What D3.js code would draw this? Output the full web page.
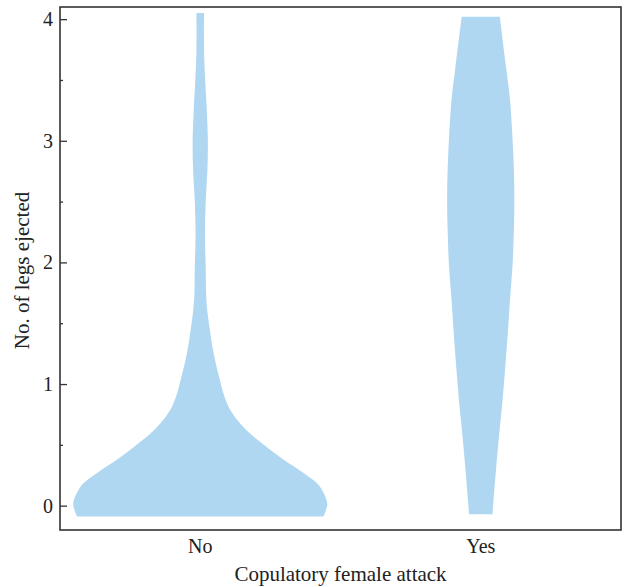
<!DOCTYPE html>
<html>
<head>
<meta charset="utf-8">
<script src="https://cdn.jsdelivr.net/npm/d3@7"></script>
<style>
  body { margin: 0; background: #fff; }
  text { font-family: "Liberation Serif", "DejaVu Serif", serif; fill: #222; }
</style>
</head>
<body>
<svg id="chart" width="627" height="587"></svg>
<script>
// groups and y ticks
const groups = ["No", "Yes"];
const yTicks = [0, 1, 2, 3, 4];
const yMinor = [0.5, 1.5, 2.5, 3.5];

// violin outlines: [legs ejected, relative density]
const noDensity = [
  [-0.09, 0.97], [-0.035, 0.99], [0.02, 1.00], [0.16, 0.94], [0.27, 0.81],
  [0.375, 0.66], [0.485, 0.52], [0.595, 0.39], [0.70, 0.295], [0.81, 0.225],
  [0.925, 0.182], [1.04, 0.153], [1.17, 0.122], [1.31, 0.095], [1.45, 0.075],
  [1.58, 0.058], [1.72, 0.047], [1.96, 0.043], [2.24, 0.037], [2.5, 0.043],
  [2.78, 0.057], [3.0, 0.06], [3.19, 0.054], [3.33, 0.048], [3.47, 0.04],
  [3.75, 0.03], [4.05, 0.03]
];
const yesDensity = [
  [-0.07, 0.092], [0.05, 0.101], [0.32, 0.122], [0.595, 0.146], [0.87, 0.172],
  [1.14, 0.193], [1.42, 0.213], [1.69, 0.23], [1.97, 0.25], [2.24, 0.26],
  [2.51, 0.265], [2.79, 0.26], [3.06, 0.248], [3.34, 0.23], [3.6, 0.2],
  [4.02, 0.15]
];
const violins = [
  { group: "No", values: noDensity },
  { group: "Yes", values: yesDensity }
];

const svg = d3.select("#chart");
const margin = { left: 60, right: 6, top: 7, bottom: 57 };
const width = 627, height = 587;

const x = d3.scalePoint()
    .domain(groups)
    .range([margin.left, width - margin.right])
    .padding(0.5);

const y = d3.scaleLinear()
    .domain([-0.2, 4.1])
    .range([height - margin.bottom, margin.top]);

const w = d3.scaleLinear()
    .domain([0, 1])
    .range([0, 127]);

// Violins
const area = d3.area()
    .curve(d3.curveCatmullRom.alpha(0.5))
    .y(d => y(d[0]));

svg.append("g")
  .selectAll("path")
  .data(violins)
  .enter().append("path")
    .attr("fill", "#b0d7f1")
    .attr("d", v => area
        .x0(d => x(v.group) - w(d[1]))
        .x1(d => x(v.group) + w(d[1]))(v.values));

// Frame
svg.append("rect")
    .attr("x", margin.left)
    .attr("y", margin.top)
    .attr("width", width - margin.left - margin.right)
    .attr("height", height - margin.top - margin.bottom)
    .attr("fill", "none")
    .attr("stroke", "#333")
    .attr("stroke-width", 1.6);

// Y axis (ticks pointing inward)
const yAxis = svg.append("g")
    .attr("transform", `translate(${margin.left},0)`)
    .call(d3.axisRight(y).tickValues(yTicks).tickSize(7).tickFormat(""));
yAxis.select(".domain").remove();
yAxis.selectAll("line").attr("stroke", "#333").attr("stroke-width", 1.3);

const yMinorAxis = svg.append("g")
    .attr("transform", `translate(${margin.left},0)`)
    .call(d3.axisRight(y).tickValues(yMinor).tickSize(3).tickFormat(""));
yMinorAxis.select(".domain").remove();
yMinorAxis.selectAll("line").attr("stroke", "#333").attr("stroke-width", 1.3);

svg.append("g")
  .selectAll("text")
  .data(yTicks)
  .enter().append("text")
    .attr("x", margin.left - 7)
    .attr("y", d => y(d))
    .attr("dy", "0.35em")
    .attr("text-anchor", "end")
    .attr("font-size", 20)
    .text(d => d);

// X labels
svg.append("g")
  .selectAll("text")
  .data(groups)
  .enter().append("text")
    .attr("x", d => x(d))
    .attr("y", 553)
    .attr("text-anchor", "middle")
    .attr("font-size", 20)
    .text(d => d);

// Axis titles
svg.append("text")
    .attr("x", (margin.left + width - margin.right) / 2)
    .attr("y", 581)
    .attr("text-anchor", "middle")
    .attr("font-size", 21)
    .text("Copulatory female attack");

svg.append("text")
    .attr("transform", `translate(29,${(margin.top + height - margin.bottom) / 2 + 2}) rotate(-90)`)
    .attr("text-anchor", "middle")
    .attr("font-size", 21)
    .text("No. of legs ejected");
</script>
</body>
</html>
